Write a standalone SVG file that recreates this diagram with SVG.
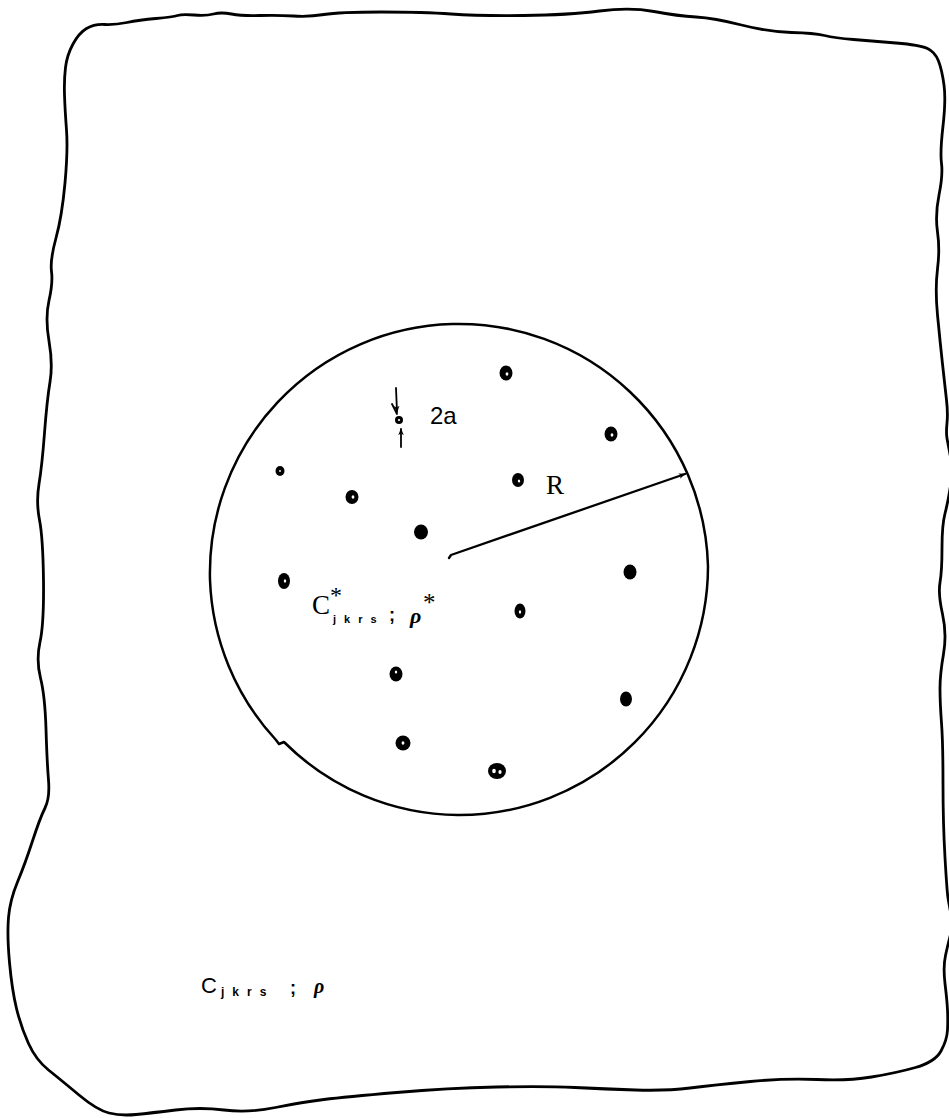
<svg xmlns="http://www.w3.org/2000/svg" width="949" height="1118" viewBox="0 0 949 1118">
<style>
.ln{fill:none;stroke:#000;stroke-linecap:round;stroke-linejoin:round}
.dot{fill:#000}
.hole{fill:#fff}
.serif{font-family:"Liberation Serif","Times New Roman",serif;fill:#000}
.sans{font-family:"Liberation Sans",Arial,sans-serif;fill:#000}
</style>
<defs>
<marker id="ah" viewBox="0 0 10 10" refX="9" refY="5" markerWidth="7" markerHeight="7" orient="auto" markerUnits="userSpaceOnUse">
<path d="M0,1 L10,5 L0,9 L3,5 Z" fill="#000"/>
</marker>
</defs>
<rect width="949" height="1118" fill="#fff"/>
<g id="matrix">
<path class="ln" stroke-width="2.8" d="M65,183 Q68,150 66.5,130 Q65,110 64.5,95 Q64,80 65.5,67.5 Q67,55 73,44 Q79,33 86.5,28.5 Q94,24 104.5,24.5 Q115,25 127,22.5 Q139,20 156,18.5 Q173,17 177.5,15.5 Q182,14 194,15 Q206,16 213.5,14 Q221,12 231.5,14 Q242,16 260,15.5 Q278,15 293.5,16 Q309,17 324,14.5 Q339,12 381.5,12 Q424,12 451,14 Q478,16 523.5,15.5 Q569,15 599.5,11 Q630,7 654,11.5 Q678,16 696,17 Q714,18 741.5,25 Q769,32 791.5,32.5 Q814,33 824.5,35.5 Q835,38 853.5,39.5 Q872,41 896,43 Q920,45 927.5,48.5 Q935,52 938.5,61 Q942,70 944,85 Q946,100 943,126 Q940,152 941.5,163.5 Q943,175 939,195 Q935,215 937.5,232 Q940,249 937.5,269 Q935,289 937.5,315 Q940,341 942.5,364 Q945,387 946.5,400 Q948,413 947,423 Q946,433 947,438.5 Q948,444 950.5,457 Q953,470 950.5,486 Q948,502 945,513.5 Q942,525 942,548 Q942,571 940,582.5 Q938,594 942.5,614 Q947,634 943.5,654 Q940,674 940,688.5 Q940,703 941.5,723 Q943,743 943,783 Q943,823 945,857.5 Q947,892 948,898 Q949,904 951,914.5 Q953,925 950.5,934.5 Q948,944 945.5,955.5 Q943,967 945,983.5 Q947,1000 947.5,1010 Q948,1020 947.5,1030 Q947,1040 941,1051 Q935,1062 915.5,1067.5 Q896,1073 871.5,1077 Q847,1081 817,1079.5 Q787,1078 750.5,1081.5 Q714,1085 690,1088 Q666,1091 635.5,1090 Q605,1089 575,1087.5 Q545,1086 496.5,1087 Q448,1088 396.5,1092.5 Q345,1097 324,1099.5 Q303,1102 275.5,1107.5 Q248,1113 224,1110 Q200,1107 175.5,1110 Q151,1113 136,1114.5 Q121,1116 109,1113 Q97,1110 79,1095 Q61,1080 48.5,1070 Q36,1060 28.5,1043.5 Q21,1027 16.5,1008.5 Q12,990 9.5,962.5 Q7,935 8.5,917.5 Q10,900 17.5,882 Q25,864 32.5,841 Q40,818 45,808 Q50,798 48.5,780 Q47,762 46,729 Q45,696 40.5,678 Q36,660 40,642 Q44,624 43.5,581 Q43,538 39.5,520 Q36,502 39,484 Q42,466 44.5,433 Q47,400 50,382 Q53,364 49,341 Q45,318 49,300.5 Q53,283 51.5,271.5 Q50,260 56,238 Q62,216 65,183 Z"/>
<text class="sans" x="201" y="993" font-size="22">C</text>
<text class="sans" x="221" y="996" font-size="12" font-weight="bold" letter-spacing="8">jkrs</text>
<text class="sans" x="290" y="994" font-size="18" font-weight="bold">;</text>
<text class="serif" x="314" y="993" font-size="20" font-style="italic" font-weight="bold">ρ</text>
</g>
<g id="inclusion">
<path class="ln" stroke-width="2.5" d="M210,580 A249,249 0 0 1 708,566 A249,249 0 0 1 458,815 A249,249 0 0 1 284,742 L279,744 L276,740 A249,249 0 0 1 210,580 Z"/>
<text class="serif" x="312" y="614" font-size="27">C</text>
<text class="serif" x="330" y="603" font-size="24">*</text>
<text class="sans" x="333" y="623" font-size="11" font-weight="bold" letter-spacing="8">jkrs</text>
<text class="sans" x="389" y="621" font-size="18" font-weight="bold">;</text>
<text class="serif" x="410" y="623" font-size="22" font-style="italic" font-weight="bold">ρ</text>
<text class="serif" x="423" y="611" font-size="25">*</text>
</g>
<g id="fibres">
<ellipse class="dot" cx="506" cy="373" rx="6.5" ry="7.5"/><ellipse class="hole" cx="507" cy="374" rx="1.4" ry="1.8"/>
<ellipse class="dot" cx="611" cy="434" rx="6.5" ry="7.5"/><ellipse class="hole" cx="612" cy="435" rx="1.4" ry="1.8"/>
<ellipse class="dot" cx="280" cy="471" rx="4.5" ry="5"/><ellipse class="hole" cx="280" cy="471" rx="0.9" ry="1.1"/>
<ellipse class="dot" cx="352" cy="497" rx="6.5" ry="7"/><ellipse class="hole" cx="353" cy="497" rx="1.4" ry="1.8"/>
<ellipse class="dot" cx="518" cy="480" rx="6" ry="7"/><ellipse class="hole" cx="519" cy="481" rx="1.2" ry="1.6"/>
<ellipse class="dot" cx="421" cy="532" rx="7" ry="7.5"/>
<ellipse class="dot" cx="284" cy="581" rx="6" ry="8"/><ellipse class="hole" cx="285" cy="581" rx="1.2" ry="1.8"/>
<ellipse class="dot" cx="630" cy="572" rx="6.5" ry="7.5"/>
<ellipse class="dot" cx="520" cy="611" rx="5.5" ry="7.5"/><ellipse class="hole" cx="520" cy="612" rx="1.2" ry="1.8"/>
<ellipse class="dot" cx="396" cy="674" rx="6.5" ry="7.5"/><ellipse class="hole" cx="396" cy="672" rx="1.2" ry="1.6"/>
<ellipse class="dot" cx="626" cy="699" rx="6" ry="7.5"/>
<ellipse class="dot" cx="403" cy="743" rx="7.5" ry="7.5"/><ellipse class="hole" cx="403" cy="743" rx="1.4" ry="1.8"/>
<ellipse class="dot" cx="497" cy="771" rx="9" ry="8"/><ellipse class="hole" cx="494" cy="771" rx="1.8" ry="2.3"/><ellipse class="hole" cx="500" cy="772" rx="1.6" ry="2"/>
<circle class="dot" cx="399" cy="420" r="4"/><circle class="hole" cx="399" cy="420" r="1.1"/>
</g>
<g id="connectors">
<path class="ln" stroke-width="1.8" d="M396,388 L397,412" marker-end="url(#ah)"/>
<path class="ln" stroke-width="1.8" d="M392,404 L397,414"/>
<path class="ln" stroke-width="1.8" d="M401,447 L401,429" marker-end="url(#ah)"/>
<path class="ln" stroke-width="2.3" d="M449,558 L451,555 L685,474" marker-end="url(#ah)"/>
</g>
<g id="labels">
<text class="sans" x="430" y="424" font-size="24">2a</text>
<text class="serif" x="546" y="494" font-size="27">R</text>
</g>
</svg>
